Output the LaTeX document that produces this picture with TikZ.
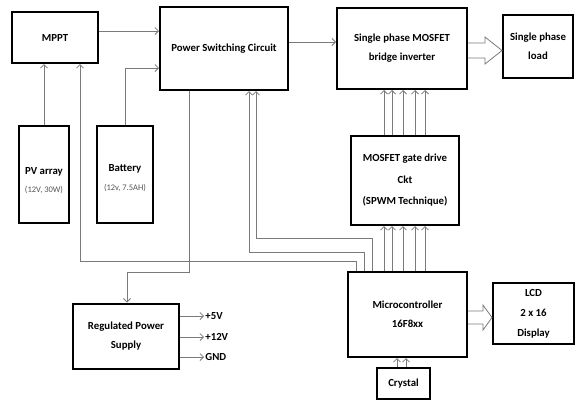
\documentclass[tikz,border=0pt]{standalone}
\usepackage{fontspec}
\setmainfont{Carlito}
\usetikzlibrary{arrows.meta,calc}
\definecolor{lgray}{HTML}{7A7A7A}
\definecolor{tgray}{HTML}{555555}
\tikzset{
  blk/.style={draw=black, line width=2pt, fill=white, align=center, inner sep=1pt,
    font=\bfseries\fontsize{10.8}{19}\selectfont},
  conn/.style={draw=lgray, line width=0.8pt, -{Straight Barb[length=3.5pt,width=7pt]}},
  fat/.style={draw=lgray, line width=0.8pt, fill=white},
  sub/.style={font=\fontsize{8.5}{10}\selectfont, text=tgray},
  lbl/.style={font=\bfseries\fontsize{10.8}{12}\selectfont, anchor=west, inner sep=1pt}
}
\begin{document}
\begin{tikzpicture}[x=1pt,y=-1pt]
\useasboundingbox (0,0) rectangle (576,402);
% boxes
\node[blk, minimum width=86pt, minimum height=51pt] (mppt) at (55,37.5) {MPPT};
\node[blk, minimum width=128pt, minimum height=83pt] (psc) at (224,48.5) {Power Switching Circuit};
\node[blk, minimum width=130pt, minimum height=81pt] (inv) at (402,48.5) {Single phase MOSFET\\bridge inverter};
\node[blk, minimum width=70pt, minimum height=63pt] (load) at (538,46.5) {Single phase\\load};
\node[blk, minimum width=50pt, minimum height=97pt] (pv) at (44,174.5) {};
\node[blk, minimum width=56pt, minimum height=97pt] (bat) at (125,174.5) {};
\node[blk, minimum width=108pt, minimum height=89pt, font=\bfseries\fontsize{10.8}{21.5}\selectfont] (gate) at (405,180.5) {MOSFET gate drive\\Ckt\\(SPWM Technique)};
\node[blk, minimum width=119pt, minimum height=85pt] (micro) at (407.5,314.5) {Microcontroller\\16F8xx};
\node[blk, minimum width=81pt, minimum height=61pt, font=\bfseries\fontsize{10.8}{20}\selectfont] (lcd) at (533.5,313.5) {LCD\\2 x 16\\Display};
\node[blk, minimum width=53pt, minimum height=31pt] (crys) at (403.5,383.5) {Crystal};
\node[blk, minimum width=106pt, minimum height=65pt] (rps) at (126,336) {Regulated Power\\Supply};
% texts in PV / battery
\node[font=\bfseries\fontsize{10.8}{12}\selectfont, inner sep=0pt] (pvt) at (44,172) {PV array};
\node[sub, inner sep=0pt] (pvs) at (44,190) {(12V, 30W)};
\node[font=\bfseries\fontsize{10.8}{12}\selectfont, inner sep=0pt] (batt) at (125,169) {Battery};
\node[sub, inner sep=0pt] (bats) at (125,188) {(12v, 7.5AH)};
% coordinates
\coordinate (c1) at (80,261);
\coordinate (c2) at (249,252);
\coordinate (c3) at (256,238);
\coordinate (c4) at (127,272);
% connectors
\draw[conn] (pv.north) -- (pv.north |- mppt.south);
\draw[conn] ($(micro.north west)+(9,0)$) |- (c1) -- (c1 |- mppt.south);
\draw[conn] ($(mppt.north east)+(0,20)$) coordinate (a1) -- (a1 -| psc.west);
\draw[conn] (bat.north) |- ($(psc.south west)+(0,-23)$);
\draw[conn] ($(psc.north east)+(0,36)$) coordinate (a2) -- (a2 -| inv.west);
\draw[conn] ($(micro.north west)+(17,0)$) |- (c2) -- (c2 |- psc.south);
\draw[conn] ($(micro.north west)+(25,0)$) |- (c3) -- (c3 |- psc.south);
\draw[conn] ($(psc.south west)+(30,0)$) |- (c4) -- (c4 |- rps.north);
\foreach \dx in {37,45,56,68,78}{
  \coordinate (g) at ($(micro.north west)+(\dx,0)$);
  \draw[conn] (g) -- (g |- gate.south);
  \coordinate (h) at ($(inv.south west)+(\dx+11,0)$);
  \draw[conn] (h |- gate.north) -- (h);
}
\draw[conn] ($(crys.north west)+(21,0)$) coordinate (k1) -- (k1 |- micro.south);
\draw[conn] ($(crys.north west)+(30,0)$) coordinate (k2) -- (k2 |- micro.south);
% rps outputs
\foreach \dy/\t/\n in {-20/+5V/o1, 1/+12V/o2, 21/GND/o3}{
  \draw[conn] ($(rps.east)+(0,\dy)$) -- ++(24,0) node[lbl] (\n) {\t};
}
% hollow arrows
\draw[fat] (inv.east |- 0,43) -- (485,43) -- (485,37) -- (load.west |- 0,50.5) -- (485,64) -- (485,58) -- (inv.east |- 0,58);
\draw[fat] (micro.east |- 0,311) -- (483,311) -- (483,305) -- (lcd.west |- 0,317.5) -- (483,330) -- (483,324) -- (micro.east |- 0,324);
\end{tikzpicture}
\end{document}
